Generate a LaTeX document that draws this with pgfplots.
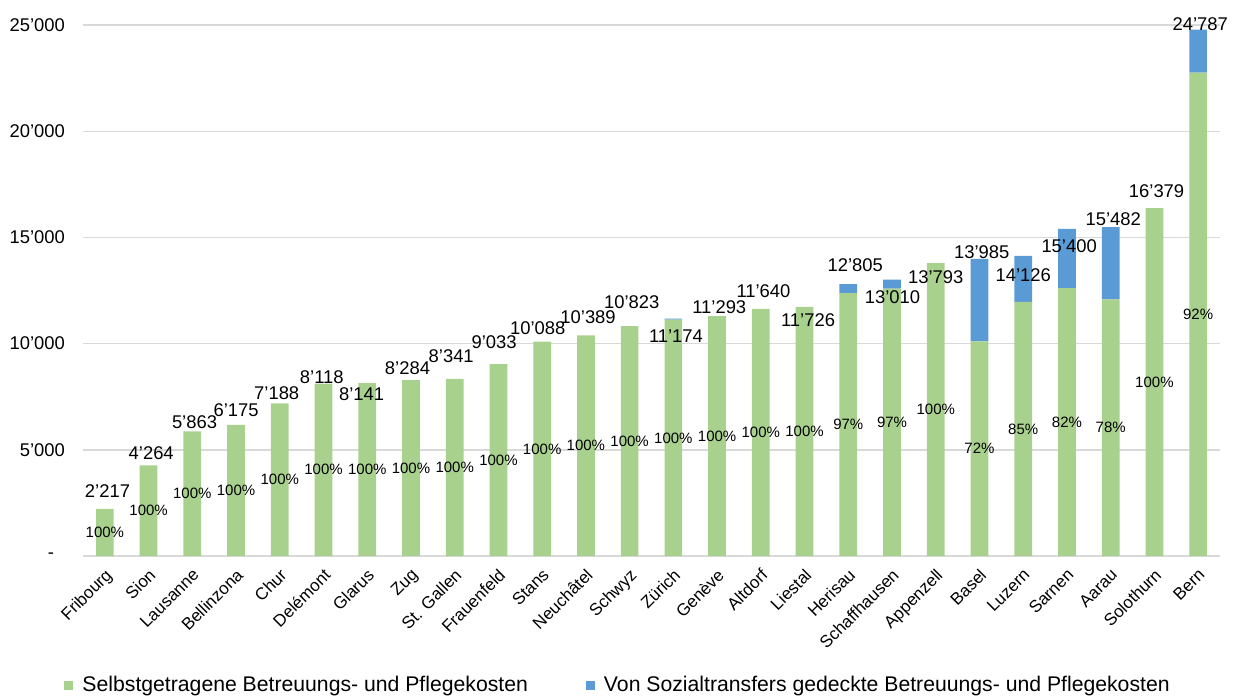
\documentclass[border=0pt]{standalone}
\usepackage{fontspec}
\setmainfont{Liberation Sans}
\usepackage{pgfplots}
\usepackage{pgfplotstable}
\pgfplotsset{compat=1.18}

\definecolor{selbst}{HTML}{A9D18E}
\definecolor{sozial}{HTML}{5B9BD5}
\definecolor{gridgray}{HTML}{D9D9D9}

% x: Position, g: selbstgetragen, b: von Sozialtransfers gedeckt, pct: Anteil selbstgetragen
\pgfplotstableread{
x g b pct
0 2217 0 100
1 4264 0 100
2 5863 0 100
3 6175 0 100
4 7188 0 100
5 8118 0 100
6 8141 0 100
7 8284 0 100
8 8341 0 100
9 9033 0 100
10 10088 0 100
11 10389 0 100
12 10823 0 100
13 11124 50 100
14 11293 0 100
15 11640 0 100
16 11726 0 100
17 12380 425 97
18 12590 420 97
19 13793 0 100
20 10100 3885 72
21 11960 2166 85
22 12610 2790 82
23 12080 3402 78
24 16379 0 100
25 22760 2027 92
}\kosten

% Totale: Position der Beschriftung (lx, ly) und Wert
\pgfplotstableread{
lx ly total
0.06 3058 2217
1.06 4831 4264
2.05 6318 5863
3.00 6868 6175
3.93 7653 7188
4.96 8420 8118
5.87 7606 8141
6.92 8830 8284
7.92 9408 8341
8.90 10081 9033
9.90 10711 10088
11.05 11257 10389
12.05 11963 10823
13.06 10349 11174
14.05 11727 11293
15.06 12480 11640
16.08 11101 11726
17.16 13689 12805
18.01 12198 13010
19.00 13138 13793
20.05 14286 13985
21.00 13218 14126
22.05 14597 15400
23.06 15838 15482
24.05 17184 16379
25.05 25058 24787
}\totale

\begin{document}
\begin{tikzpicture}
\begin{axis}[
  name=ax,
  scale only axis,
  width=568.5pt, height=265.5pt,
  ybar stacked,
  bar width=8.85pt,
  xmin=-0.5, xmax=25.5,
  ymin=0, ymax=25000,
  enlargelimits=false,
  scaled y ticks=false,
  xtick={0,...,25},
  xticklabels={Fribourg,Sion,Lausanne,Bellinzona,Chur,Delémont,Glarus,Zug,St. Gallen,Frauenfeld,Stans,Neuchâtel,Schwyz,Zürich,Genève,Altdorf,Liestal,Herisau,Schaffhausen,Appenzell,Basel,Luzern,Sarnen,Aarau,Solothurn,Bern},
  ytick={0,5000,...,25000},
  yticklabels={{-\rule{5.5pt}{0pt}},5’000,10’000,15’000,20’000,25’000},
  ymajorgrids,
  grid style={gridgray, line width=0.7pt},
  axis line style={draw=none},
  major tick length=0pt,
  tick label style={font=\fontsize{9.2}{10}\selectfont},
  yticklabel style={xshift=-5.5pt},
  xticklabel style={xshift=-0.4pt, yshift=-5.6pt, rotate=45, anchor=north east,
    inner sep=0pt, font=\fontsize{8.5}{9}\selectfont},
  legend style={at={(0.4715,-0.243)}, anchor=center, draw=none,
    legend columns=2, font=\fontsize{10.6}{12}\selectfont,
    /tikz/every odd column/.append style={column sep=2.5pt},
    /tikz/every even column/.append style={column sep=27pt}},
  legend image code/.code={\fill[#1] (0pt,-2.25pt) rectangle (4.5pt,2.25pt);},
]
\addplot[fill=selbst, draw=none] table[x=x, y=g] {\kosten};
\addplot[fill=sozial, draw=none] table[x=x, y=b] {\kosten};
\legend{Selbstgetragene Betreuungs- und Pflegekosten, Von Sozialtransfers gedeckte Betreuungs- und Pflegekosten}
\end{axis}

\begin{axis}[
  scale only axis,
  width=568.5pt, height=265.5pt,
  xmin=-0.5, xmax=25.5,
  ymin=0, ymax=25000,
  enlargelimits=false,
  hide axis, clip=false,
]
% Anteile, in der Mitte des gruenen Balkens
\addplot[draw=none, point meta=explicit,
  nodes near coords={\pgfmathprintnumber[assume math mode=true]{\pgfplotspointmeta}\%},
  every node near coord/.append style={anchor=center, inner sep=0pt,
    font=\fontsize{7.5}{8}\selectfont},
] table[x=x, y expr=\thisrow{g}/2, meta=pct] {\kosten};
% Totale
\addplot[draw=none, point meta=explicit,
  nodes near coords={\pgfmathprintnumber[fixed, precision=0, 1000 sep={’}, assume math mode=true]{\pgfplotspointmeta}},
  every node near coord/.append style={anchor=center, inner sep=0pt,
    font=\fontsize{9.2}{10}\selectfont},
] table[x=lx, y=ly, meta=total] {\totale};
\end{axis}

\pgfresetboundingbox
\path[use as bounding box] ([shift={(-41.5pt,-70.5pt)}]ax.south west) rectangle ([shift={(9pt,12.5pt)}]ax.north east);
\end{tikzpicture}
\end{document}
